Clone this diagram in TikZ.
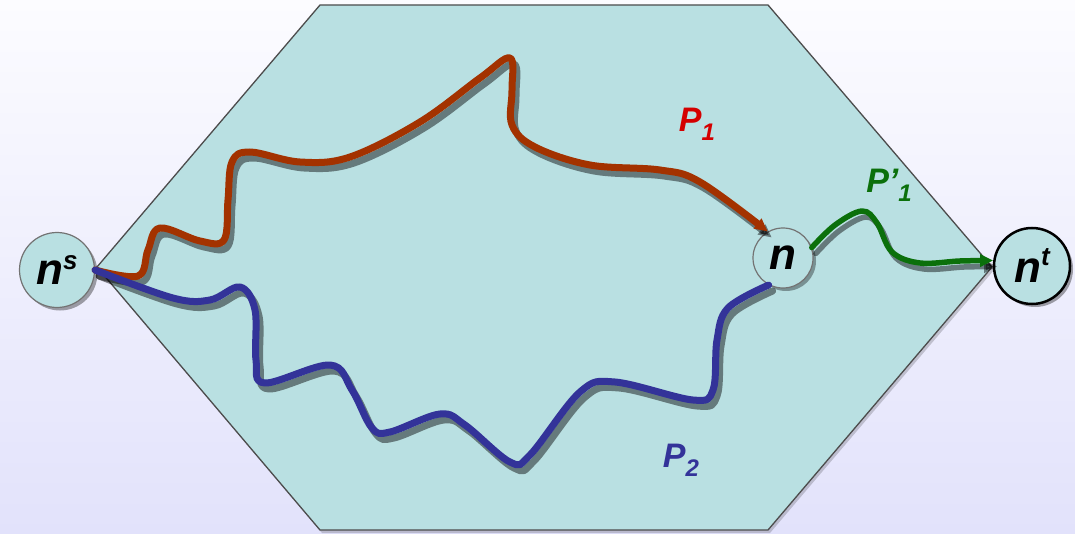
\documentclass[tikz,border=0pt]{standalone}
\usepackage{fontspec}
\newfontfamily\arialfont{Liberation Sans}
\usetikzlibrary{arrows.meta, shadows}
\definecolor{hexfill}{HTML}{B9E0E2}
\definecolor{bgtop}{HTML}{FCFCFF}
\definecolor{bgbottom}{HTML}{E2E2FB}
\definecolor{pathone}{HTML}{A33200}
\definecolor{pathtwo}{HTML}{333399}
\definecolor{pathext}{HTML}{0B700B}
\definecolor{labelone}{HTML}{D40000}
\newcommand{\supsc}[2][15pt]{\raisebox{#1}{\fontsize{26}{26}\selectfont #2}}
\newcommand{\subsc}[1]{\raisebox{-9pt}{\fontsize{24}{24}\selectfont #1}}

\begin{document}
\begin{tikzpicture}[
    x=1pt, y=-1pt,
    >={Triangle[length=13pt, width=12pt]},
    % --- styles ---
    vertex/.style={
      circle, draw=black!55, line width=1.2pt, fill=hexfill,
      inner sep=0pt, text=black,
      font=\arialfont\bfseries\itshape\fontsize{44}{48}\selectfont,
      drop shadow={shadow xshift=3pt, shadow yshift=-3pt,
        fill=black, opacity=.35}},
    route/.style={line width=7pt, line cap=round, line join=round},
    shade/.style={draw=black, opacity=.45},
    plabel/.style={
      font=\arialfont\bfseries\itshape\fontsize{34}{38}\selectfont},
    % --- path shapes ---
    pone/.style={insert path={plot[smooth, tension=.6] coordinates {
      (ns.east) (138,276) (148,250) (160,228) (200,241) (224,240)
      (228,200) (232,162) (250,152) (300,162) (350,157) (420,122)
      (480,78) (510,58) (512,90) (512,125) (535,147) (590,165)
      (660,170) (700,182) (nm.120)}}},
    ptwo/.style={insert path={plot[smooth, tension=.6] coordinates {
      (ns.east) (173,298) (210,300) (240,287) (255,310) (256,360)
      (265,383) (330,365) (352,390) (372,428) (390,432) (440,414)
      (465,425) (510,462) (530,455) (580,392) (615,382) (693,400)
      (713,390) (717,340) (728,308) (nm.242)}}},
    pext/.style={insert path={plot[smooth, tension=.6] coordinates {
      (nm.20) (835,225) (862,211) (877,223) (892,252) (920,263)
      (960,261) (nt.172)}}},
  ]

  % ── Background ──
  \fill[top color=bgtop, bottom color=bgbottom] (0,0) rectangle (1075,534);
  \useasboundingbox (0,0) rectangle (1075,534);

  % ── Hexagon region ──
  \fill[black, opacity=.18, transform canvas={shift={(2pt,-3pt)}}]
    (97,267) -- (320,5) -- (768,5) -- (992,267) -- (768,530) -- (320,530) -- cycle;
  \draw[draw=black!70, line width=1.3pt, fill=hexfill]
    (97,267) -- (320,5) -- (768,5) -- (992,267) -- (768,530) -- (320,530) -- cycle;

  % ── Nodes ──
  \node[vertex, minimum size=75pt] (ns) at (57,270) {n\supsc{s}};
  \node[vertex, minimum size=60pt] (nm) at (783,258) {n};
  \node[vertex, minimum size=76pt, draw=black, line width=2.5pt]
    (nt) at (1032,266) {n\supsc[17pt]{t}};

  % ── Path shadows ──
  \begin{scope}[transform canvas={shift={(4pt,-6pt)}}]
    \draw[route, shade, ->, pone];
    \draw[route, shade, ptwo];
    \draw[route, shade, line width=5.5pt, ->, pext];
  \end{scope}

  % ── Paths ──
  \draw[route, pathone, ->, pone];
  \draw[route, pathtwo, ptwo];
  \draw[route, pathext, line width=5.5pt, ->, pext];

  % ── Path labels ──
  \node[plabel, text=labelone] (lone) at (697,124) {P\subsc{1}};
  \node[plabel, text=pathtwo]  (ltwo) at (681,460) {P\subsc{2}};
  \node[plabel, text=pathext]  (lext) at (889,185) {P’\subsc{1}};

\end{tikzpicture}
\end{document}
